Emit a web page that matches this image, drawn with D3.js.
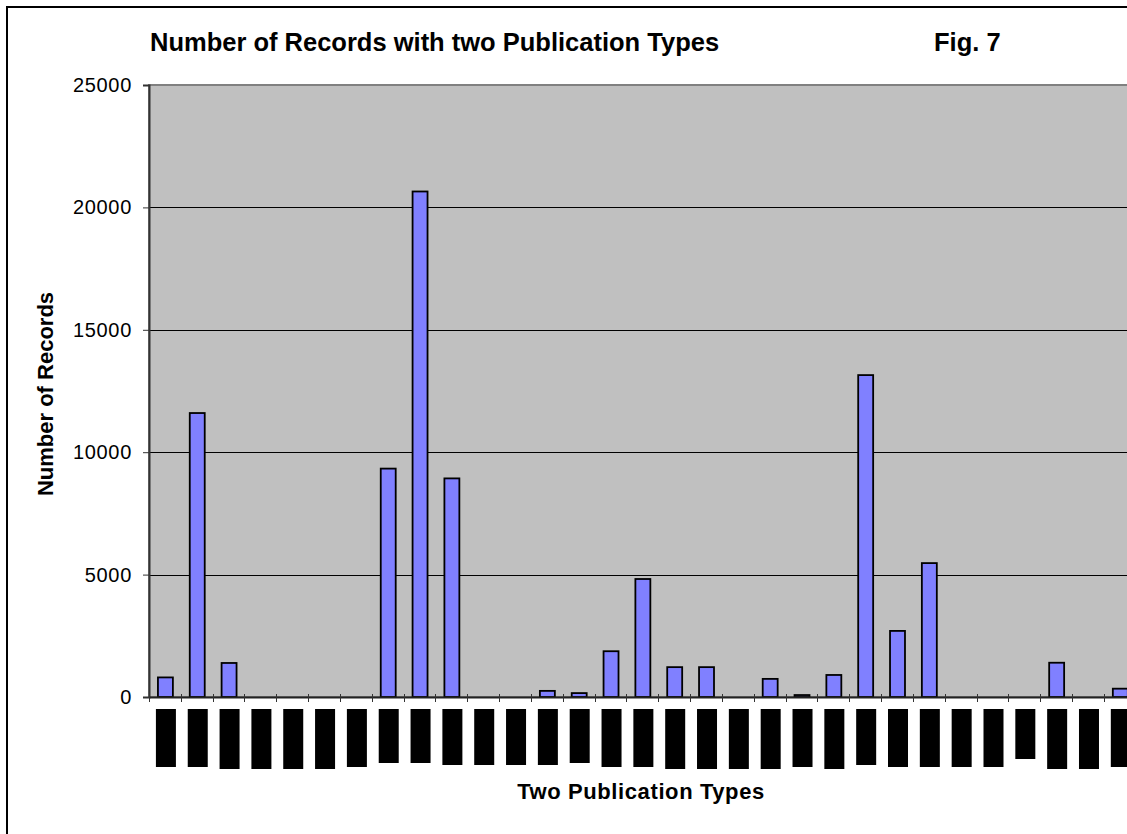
<!DOCTYPE html>
<html>
<head>
<meta charset="utf-8">
<script src="https://cdn.jsdelivr.net/npm/d3@7"></script>
<style>
  html, body { margin: 0; padding: 0; background: #fff; }
  svg { display: block; font-family: "Liberation Sans", Arial, sans-serif; }
</style>
</head>
<body>
<svg id="chart" width="1127" height="834"></svg>
<script>
// ---- data ----
const categories = d3.range(1, 32).map(i => "Pair " + i);
const records = [800, 11600, 1390, 0, 0, 0, 0, 9330, 20650, 8930, 0, 0, 250, 160, 1870,
                 4820, 1220, 1220, 0, 740, 80, 900, 13150, 2700, 5470, 0, 0, 0, 1400, 0, 340];
// lengths of the (illegible, blacked-out) category label blocks
const labelBlockLen = [58, 58, 60, 60, 60, 60, 58, 54, 54, 56, 56, 56, 56, 54, 58, 58, 60, 60,
                       60, 60, 58, 60, 56, 58, 58, 58, 58, 50, 60, 60, 58];
const yTicks = [0, 5000, 10000, 15000, 20000, 25000];
const titleText = "Number of Records with two Publication Types";
const figText = "Fig. 7";
const yTitle = "Number of Records";
const xTitle = "Two Publication Types";

// ---- layout ----
const W = 1127, H = 834;
const plot = { left: 149, top: 85, bottom: 697, bandW: 31.83 };
plot.right = plot.left + categories.length * plot.bandW;

const svg = d3.select("#chart");

// outer frame
svg.append("rect").attr("x", 7).attr("y", 7).attr("width", W + 20).attr("height", H + 20)
  .attr("fill", "#fff").attr("stroke", "#000").attr("stroke-width", 2);

const x = d3.scaleBand().domain(categories).range([plot.left, plot.right]).paddingInner(0).paddingOuter(0);
const y = d3.scaleLinear().domain([0, 25000]).range([plot.bottom, plot.top]);

// plot area
svg.append("rect").attr("x", plot.left).attr("y", plot.top)
  .attr("width", plot.right - plot.left).attr("height", plot.bottom - plot.top)
  .attr("fill", "#C0C0C0").attr("stroke", "#808080").attr("stroke-width", 2);

// gridlines
svg.append("g").selectAll("line").data(yTicks.filter(d => d > 0 && d < 25000)).join("line")
  .attr("x1", plot.left).attr("x2", plot.right)
  .attr("y1", d => Math.round(y(d)) + 0.5).attr("y2", d => Math.round(y(d)) + 0.5)
  .attr("stroke", "#000").attr("stroke-width", 1);

// y axis
const yAxis = d3.axisLeft(y).tickValues(yTicks).tickFormat(d3.format("d")).tickSize(6).tickPadding(11);
const gy = svg.append("g").attr("transform", `translate(${plot.left},0)`).call(yAxis);
gy.select(".domain").attr("stroke", "#333").attr("stroke-width", 2);
gy.selectAll(".tick line").attr("stroke", "#333").attr("stroke-width", 1);
gy.selectAll(".tick text").attr("font-size", 20).attr("fill", "#000").attr("letter-spacing", 0.7)
  .attr("font-family", "Liberation Sans, Arial, sans-serif");

// bars
const barW = plot.bandW * 0.47;
svg.append("g").selectAll("rect").data(records.map((v, i) => ({ c: categories[i], v }))).join("rect")
  .filter(d => d.v > 0)
  .attr("x", d => x(d.c) + (x.bandwidth() - barW) / 2 + 0.5)
  .attr("y", d => y(d.v))
  .attr("width", barW)
  .attr("height", d => y(0) - y(d.v))
  .attr("fill", "#8080FF").attr("stroke", "#000").attr("stroke-width", 1.8);

// x axis
const xAxis = d3.axisBottom(x).tickSizeInner(0).tickSizeOuter(0).tickFormat("");
const gx = svg.append("g").attr("transform", `translate(0,${plot.bottom})`).call(xAxis);
gx.select(".domain").attr("stroke", "#222").attr("stroke-width", 2);
// boundary ticks
svg.append("g").selectAll("line").data(categories).join("line")
  .attr("x1", d => Math.round(x(d)) + 0.5).attr("x2", d => Math.round(x(d)) + 0.5)
  .attr("y1", plot.bottom - 3).attr("y2", plot.bottom + 5)
  .attr("stroke", "#333").attr("stroke-width", 1);

// blacked-out category label blocks
svg.append("g").selectAll("rect").data(categories).join("rect")
  .attr("x", d => x(d) + x.bandwidth() / 2 - 9)
  .attr("y", 709)
  .attr("width", 20)
  .attr("height", (d, i) => labelBlockLen[i])
  .attr("fill", "#000");

// titles
svg.append("text").attr("x", 150).attr("y", 51).attr("font-size", 25.5).attr("font-weight", "bold")
  .text(titleText);
svg.append("text").attr("x", 934).attr("y", 51).attr("font-size", 25.5).attr("font-weight", "bold")
  .text(figText);
svg.append("text").attr("transform", "translate(53,394) rotate(-90)").attr("text-anchor", "middle")
  .attr("font-size", 22).attr("font-weight", "bold").text(yTitle);
svg.append("text").attr("x", 641).attr("y", 799).attr("text-anchor", "middle")
  .attr("font-size", 22).attr("font-weight", "bold").attr("letter-spacing", 0.6).text(xTitle);
</script>
</body>
</html>
